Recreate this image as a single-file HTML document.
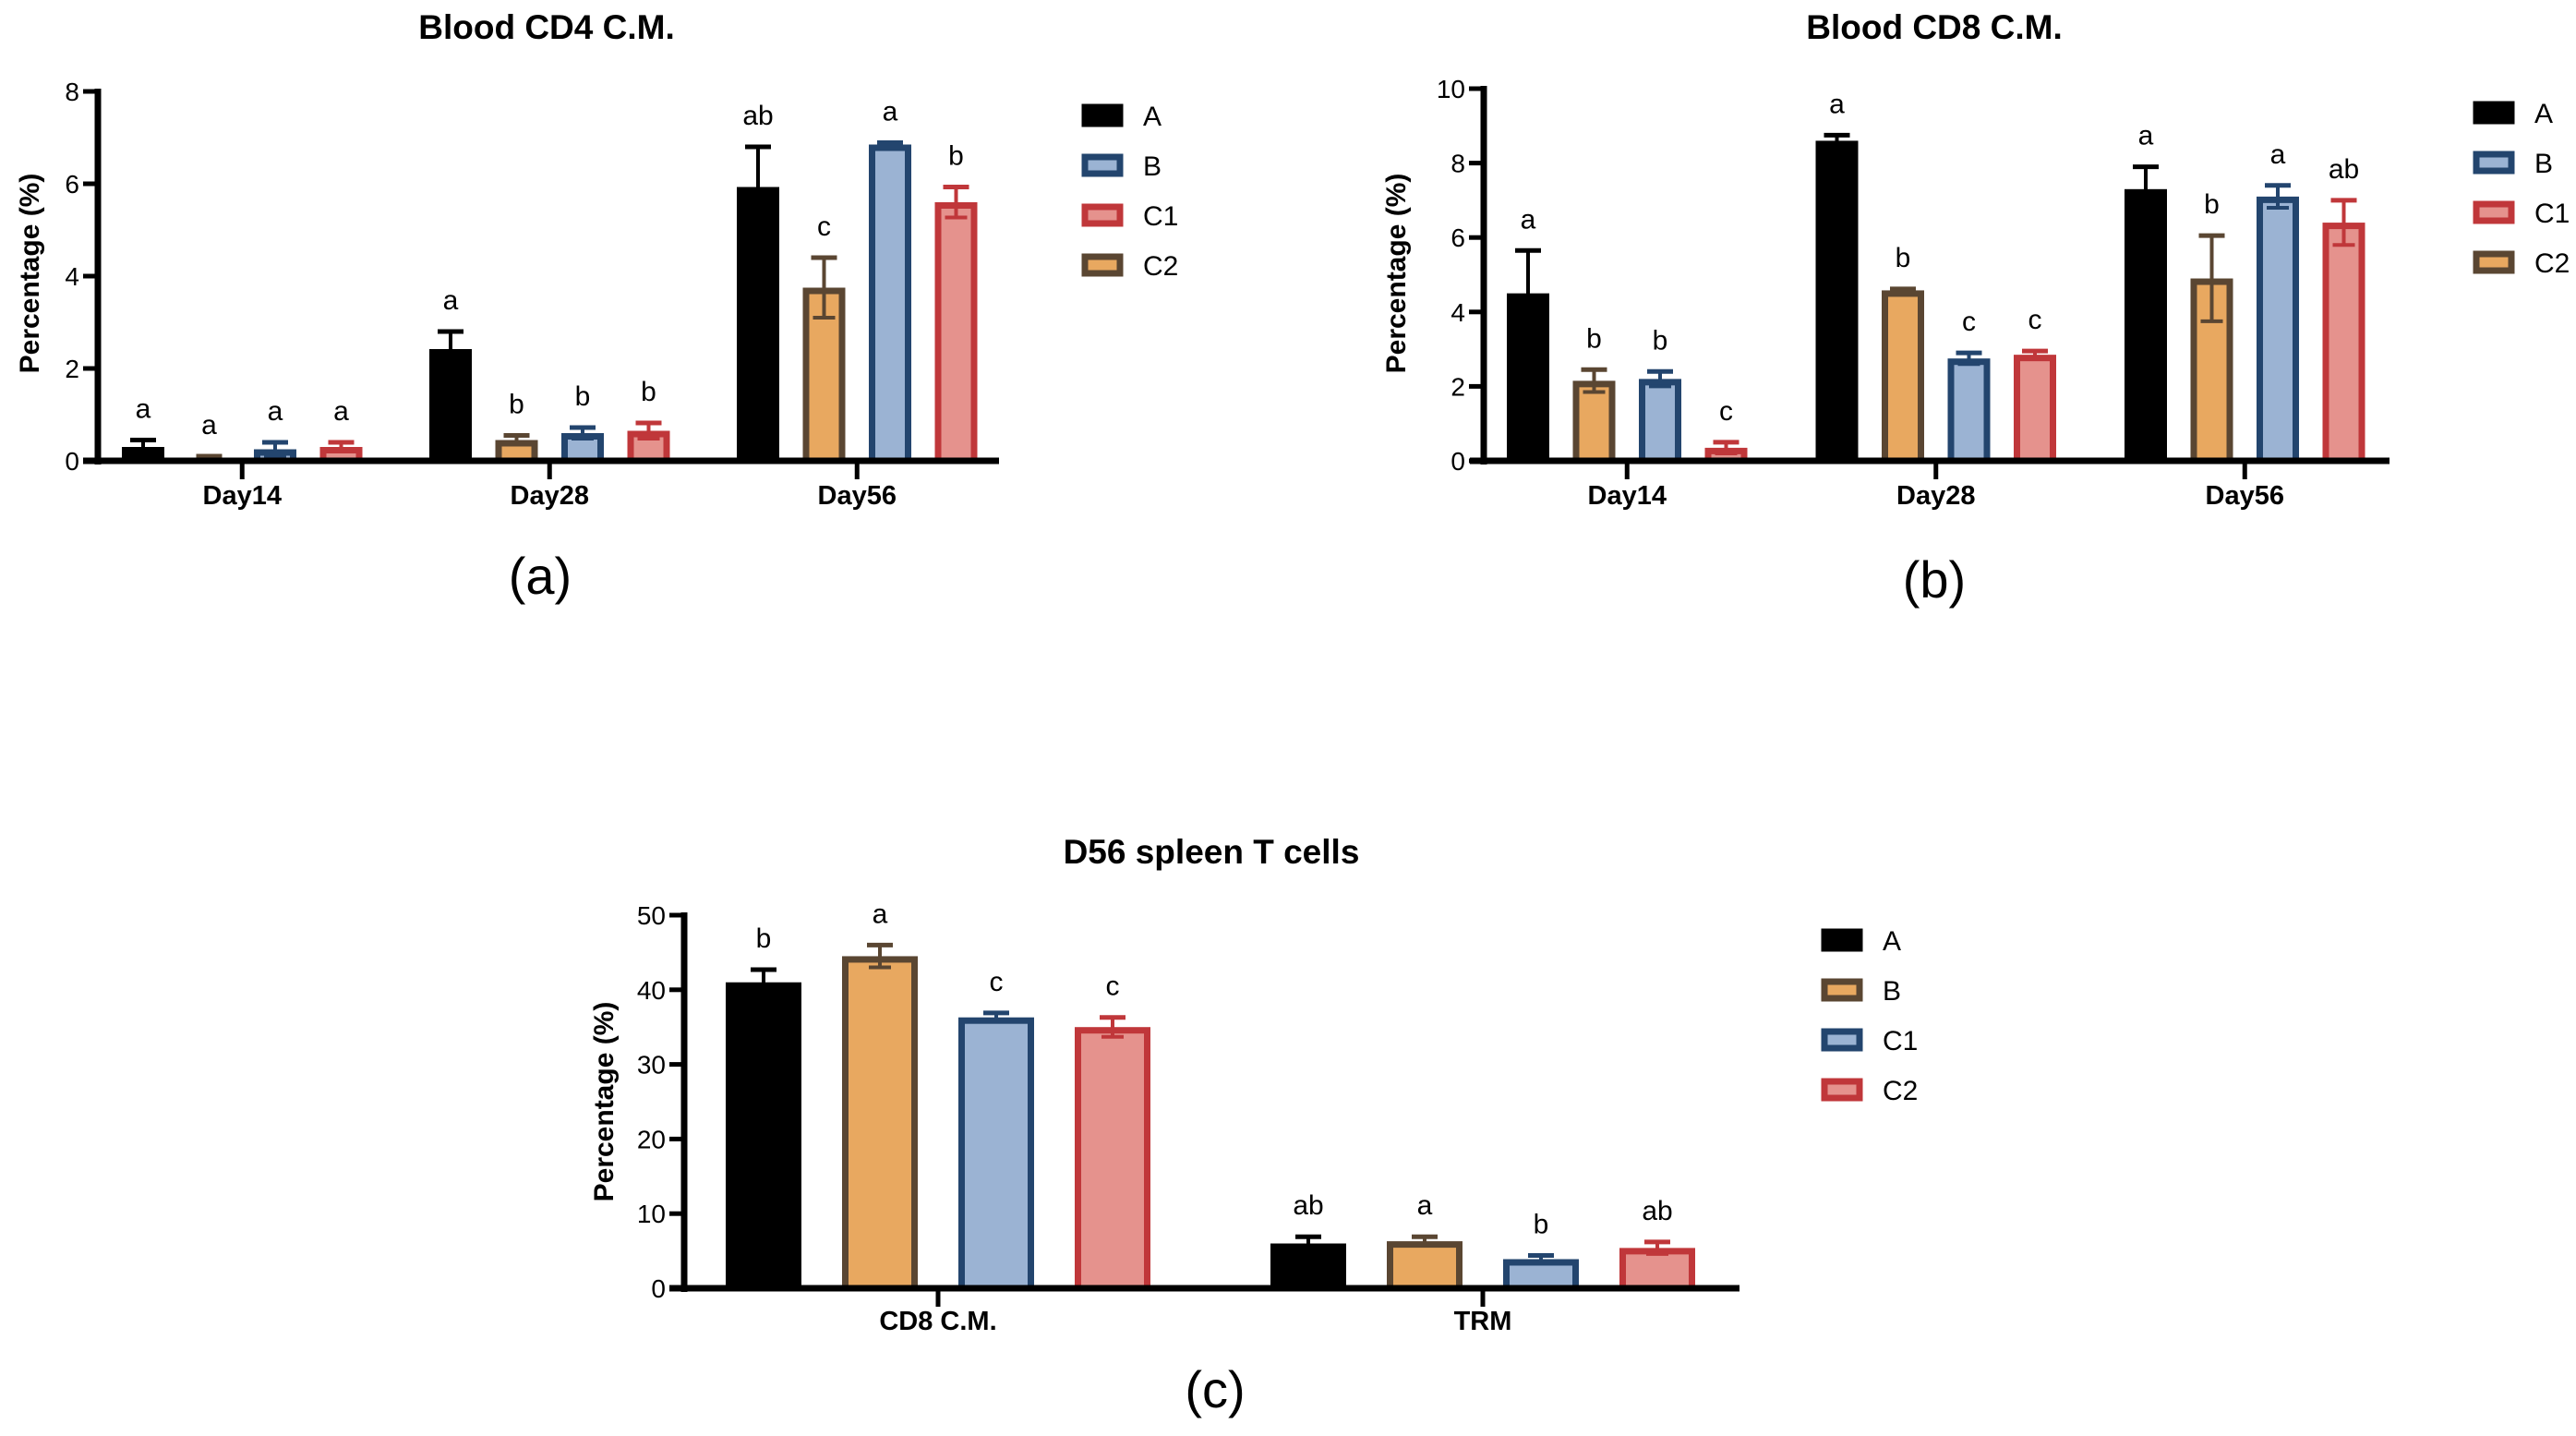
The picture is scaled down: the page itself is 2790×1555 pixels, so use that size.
<!DOCTYPE html>
<html><head><meta charset="utf-8"><style>
html,body{margin:0;padding:0;background:#fff}
svg{display:block}
text{font-family:"Liberation Sans",Arial,sans-serif}
</style></head><body>
<svg id="fig" width="2790" height="1555" viewBox="0 0 2790 1555" xmlns="http://www.w3.org/2000/svg"></svg>
<script>
// ---- Chart (a) Blood CD4 C.M. ----
const catsA = ["Day14","Day28","Day56"];
const valA_A  = [0.30, 2.42, 5.93];
const valA_C2 = [0.07, 0.45, 3.75];
const valA_B  = [0.25, 0.60, 6.85];
const valA_C1 = [0.30, 0.65, 5.60];
const errA_A  = [0.15, 0.38, 0.87];
const errA_C2 = [0.03, 0.10, 0.65];
const errA_B  = [0.15, 0.12, 0.04];
const errA_C1 = [0.10, 0.17, 0.33];
const letA_A  = ["a","a","ab"];
const letA_C2 = ["a","b","c"];
const letA_B  = ["a","b","a"];
const letA_C1 = ["a","b","b"];
const ticksA = [0,2,4,6,8];

// ---- Chart (b) Blood CD8 C.M. ----
const catsB = ["Day14","Day28","Day56"];
const valB_A  = [4.50, 8.60, 7.30];
const valB_C2 = [2.15, 4.58, 4.90];
const valB_B  = [2.20, 2.75, 7.10];
const valB_C1 = [0.35, 2.85, 6.40];
const errB_A  = [1.15, 0.15, 0.60];
const errB_C2 = [0.30, 0.04, 1.15];
const errB_B  = [0.20, 0.15, 0.30];
const errB_C1 = [0.15, 0.10, 0.60];
const letB_A  = ["a","a","a"];
const letB_C2 = ["b","b","b"];
const letB_B  = ["b","c","a"];
const letB_C1 = ["c","c","ab"];
const ticksB = [0,2,4,6,8,10];

// ---- Chart (c) D56 spleen T cells ----
const catsC = ["CD8 C.M.","TRM"];
const valC_A  = [41.0, 6.0];
const valC_B  = [44.5, 6.3];
const valC_C1 = [36.3, 3.9];
const valC_C2 = [35.0, 5.4];
const errC_A  = [1.7, 0.9];
const errC_B  = [1.5, 0.6];
const errC_C1 = [0.6, 0.5];
const errC_C2 = [1.3, 0.8];
const letC_A  = ["b","ab"];
const letC_B  = ["a","a"];
const letC_C1 = ["c","b"];
const letC_C2 = ["c","ab"];
const ticksC = [0,10,20,30,40,50];

const NS="http://www.w3.org/2000/svg";
const svg=document.getElementById('fig');
const STY={
  black:{fill:"#000",stroke:"#000",err:"#000"},
  orange:{fill:"#e8a860",stroke:"#5a4632",err:"#5a4632"},
  blue:{fill:"#9bb3d3",stroke:"#23456e",err:"#23456e"},
  red:{fill:"#e5928d",stroke:"#c0373a",err:"#c0373a"}
};
function mk(tag,attrs,parent){const e=document.createElementNS(NS,tag);for(const k in attrs)e.setAttribute(k,attrs[k]);(parent||svg).appendChild(e);return e;}

function chart(cfg){
  const g=mk('g',{});
  
  
  const y=v=>cfg.y0-(v-0)*(cfg.y0-cfg.yTop)/cfg.ymax;
  const t=mk('text',{x:cfg.titleX,y:cfg.titleY,'font-size':37,'font-weight':'bold','text-anchor':'middle'},g);
  t.textContent=cfg.title;
  
  
  const yt=mk('text',{x:0,y:0,'font-size':30,'font-weight':'bold','text-anchor':'middle',transform:`translate(${cfg.yTitleX},${cfg.yTitleY}) rotate(-90)`},g);
  yt.textContent="Percentage (%)";
  
  
  cfg.series.forEach((s,si)=>{
    const st=STY[s.color];
    s.vals.forEach((v,ci)=>{
      const x0=cfg.groupX0+ci*cfg.groupStep+si*cfg.barStep;
      const top=y(v), bot=cfg.y0;
      const eTop=y(v+s.err[ci]), eBot=y(Math.max(0,v-s.err[ci]));
      const cx=x0+cfg.barW/2;
      const el=mk('line',{x1:cx,x2:cx,y1:eTop,y2:eBot,stroke:st.err,'stroke-width':4},g);
      
      
      const cap=mk('line',{x1:cx-14,x2:cx+14,y1:eTop,y2:eTop,stroke:st.err,'stroke-width':5},g);
      
      
      const r=mk('rect',{x:x0+3.5,y:top+3.5,width:cfg.barW-7,height:Math.max(0,bot-top-3.5),fill:st.fill,stroke:st.stroke,'stroke-width':7},g);
      
      
      if(s.color!=='black'){
        const lo=mk('line',{x1:cx,x2:cx,y1:top,y2:eBot,stroke:st.err,'stroke-width':4},g);
        
        
        const lc=mk('line',{x1:cx-12,x2:cx+12,y1:eBot,y2:eBot,stroke:st.err,'stroke-width':4},g);
        
        
      }
      const lt=mk('text',{x:cx,y:eTop-24,'font-size':30,'text-anchor':'middle'},g);
      lt.textContent=s.lets[ci];
      
      
    });
  });
  const ya=mk('line',{x1:cfg.axisX,x2:cfg.axisX,y1:cfg.yTop-3,y2:cfg.y0+4,stroke:'#000','stroke-width':7},g);
  
  
  const xa=mk('line',{x1:cfg.xStart,x2:cfg.xEnd,y1:cfg.y0,y2:cfg.y0,stroke:'#000','stroke-width':7},g);
  
  
  cfg.ticks.forEach(tv=>{
    const ty=y(tv);
    const tk=mk('line',{x1:cfg.axisX-16,x2:cfg.axisX,y1:ty,y2:ty,stroke:'#000','stroke-width':5},g);
    
    
    const tl=mk('text',{x:cfg.axisX-20,y:ty+10,'font-size':28,'text-anchor':'end'},g);
    tl.textContent=tv;
    
    
  });
  cfg.cats.forEach((c,ci)=>{
    const n=cfg.series.length;
    const cx=cfg.groupX0+ci*cfg.groupStep+((n-1)*cfg.barStep+cfg.barW)/2;
    const tk=mk('line',{x1:cx,x2:cx,y1:cfg.y0,y2:cfg.y0+20,stroke:'#000','stroke-width':5},g);
    
    
    const tl=mk('text',{x:cx,y:cfg.y0+cfg.catDy,'font-size':29,'font-weight':'bold','text-anchor':'middle'},g);
    tl.textContent=c;
    
    
  });
  cfg.legend.forEach((l,li)=>{
    const st=STY[l.color];
    const ly=cfg.legY+li*54;
    const sq=mk('rect',{x:cfg.legX+3,y:ly-9,width:38,height:18,fill:st.fill,stroke:st.stroke,'stroke-width':7},g);
    
    
    const lt=mk('text',{x:cfg.legX+66,y:ly+11,'font-size':30},g);
    lt.textContent=l.key;
    
    
  });
  const pl=mk('text',{x:cfg.panelX,y:cfg.panelY,'font-size':56,'text-anchor':'middle'},g);
  pl.textContent=cfg.panel;
  
  
}

chart({name:'chart-a',title:'Blood CD4 C.M.',titleX:592,titleY:42,yTitleX:42,yTitleY:296,
  y0:499,yTop:99,ymax:8,axisX:106,xStart:90,xEnd:1082,ticks:ticksA,cats:catsA,catDy:47,
  groupX0:132,groupStep:333,barStep:71.5,barW:46,
  series:[{key:'A',color:'black',vals:valA_A,err:errA_A,lets:letA_A},
          {key:'C2',color:'orange',vals:valA_C2,err:errA_C2,lets:letA_C2},
          {key:'B',color:'blue',vals:valA_B,err:errA_B,lets:letA_B},
          {key:'C1',color:'red',vals:valA_C1,err:errA_C1,lets:letA_C1}],
  legend:[{key:'A',color:'black'},{key:'B',color:'blue'},{key:'C1',color:'red'},{key:'C2',color:'orange'}],
  legX:1172,legY:125,panel:'(a)',panelX:585,panelY:643});

chart({name:'chart-b',title:'Blood CD8 C.M.',titleX:2095,titleY:42,yTitleX:1522,yTitleY:296,
  y0:499,yTop:96,ymax:10,axisX:1607,xStart:1592,xEnd:2588,ticks:ticksB,cats:catsB,catDy:47,
  groupX0:1632,groupStep:334.5,barStep:71.5,barW:46,
  series:[{key:'A',color:'black',vals:valB_A,err:errB_A,lets:letB_A},
          {key:'C2',color:'orange',vals:valB_C2,err:errB_C2,lets:letB_C2},
          {key:'B',color:'blue',vals:valB_B,err:errB_B,lets:letB_B},
          {key:'C1',color:'red',vals:valB_C1,err:errB_C1,lets:letB_C1}],
  legend:[{key:'A',color:'black'},{key:'B',color:'blue'},{key:'C1',color:'red'},{key:'C2',color:'orange'}],
  legX:2679,legY:122,panel:'(b)',panelX:2095,panelY:647});

chart({name:'chart-c',title:'D56 spleen T cells',titleX:1312,titleY:935,yTitleX:664,yTitleY:1193,
  y0:1395,yTop:991,ymax:50,axisX:741,xStart:725,xEnd:1884,ticks:ticksC,cats:catsC,catDy:45,
  groupX0:786,groupStep:590,barStep:126,barW:82,
  series:[{key:'A',color:'black',vals:valC_A,err:errC_A,lets:letC_A},
          {key:'B',color:'orange',vals:valC_B,err:errC_B,lets:letC_B},
          {key:'C1',color:'blue',vals:valC_C1,err:errC_C1,lets:letC_C1},
          {key:'C2',color:'red',vals:valC_C2,err:errC_C2,lets:letC_C2}],
  legend:[{key:'A',color:'black'},{key:'B',color:'orange'},{key:'C1',color:'blue'},{key:'C2',color:'red'}],
  legX:1973,legY:1018,panel:'(c)',panelX:1316,panelY:1524});
</script>
</body></html>
